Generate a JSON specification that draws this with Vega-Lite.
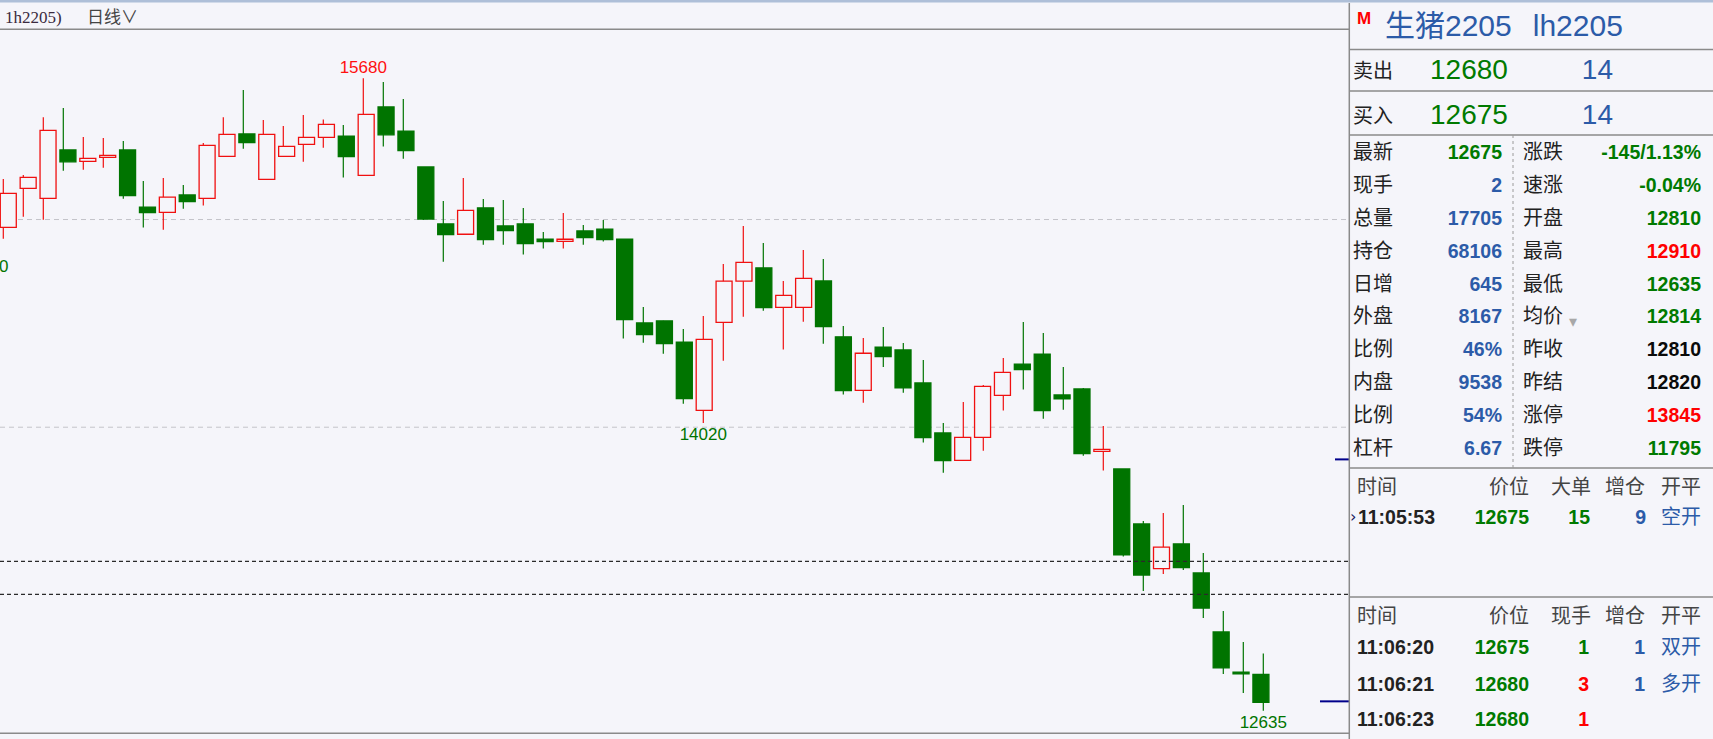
{
  "$schema": "https://vega.github.io/schema/vega-lite/v6.json",
  "background": "#f5f5fa",
  "padding": 0,
  "autosize": {"type": "none"},
  "width": 1713,
  "height": 739,
  "config": {"view": {"stroke": null}},
  "resolve": {"scale": {"x": "independent", "y": "independent"}},
  "datasets": {
    "candles": [
      {"i":0,"open":14962,"high":15195,"low":14908,"close":15126},
      {"i":1,"open":15150,"high":15214,"low":15013,"close":15203},
      {"i":2,"open":15102,"high":15493,"low":14999,"close":15429},
      {"i":3,"open":15335,"high":15537,"low":15235,"close":15278},
      {"i":4,"open":15280,"high":15397,"low":15240,"close":15294},
      {"i":5,"open":15299,"high":15392,"low":15249,"close":15309},
      {"i":6,"open":15335,"high":15378,"low":15100,"close":15115},
      {"i":7,"open":15060,"high":15185,"low":14961,"close":15033},
      {"i":8,"open":15034,"high":15200,"low":14951,"close":15108},
      {"i":9,"open":15118,"high":15166,"low":15052,"close":15086},
      {"i":10,"open":15102,"high":15368,"low":15067,"close":15357},
      {"i":11,"open":15304,"high":15493,"low":15304,"close":15410},
      {"i":12,"open":15412,"high":15624,"low":15341,"close":15370},
      {"i":13,"open":15193,"high":15479,"low":15193,"close":15410},
      {"i":14,"open":15304,"high":15450,"low":15304,"close":15352},
      {"i":15,"open":15362,"high":15503,"low":15278,"close":15396},
      {"i":16,"open":15396,"high":15482,"low":15346,"close":15458},
      {"i":17,"open":15402,"high":15455,"low":15202,"close":15303},
      {"i":18,"open":15213,"high":15680,"low":15213,"close":15506},
      {"i":19,"open":15542,"high":15662,"low":15351,"close":15408},
      {"i":20,"open":15426,"high":15580,"low":15293,"close":15332},
      {"i":21,"open":15253,"high":15253,"low":14998,"close":15002},
      {"i":22,"open":14979,"high":15089,"low":14797,"close":14927},
      {"i":23,"open":14929,"high":15200,"low":14929,"close":15044},
      {"i":24,"open":15056,"high":15099,"low":14879,"close":14903},
      {"i":25,"open":14969,"high":15094,"low":14879,"close":14947},
      {"i":26,"open":14979,"high":15056,"low":14831,"close":14884},
      {"i":27,"open":14906,"high":14940,"low":14860,"close":14894},
      {"i":28,"open":14895,"high":15032,"low":14860,"close":14905},
      {"i":29,"open":14945,"high":14974,"low":14879,"close":14913},
      {"i":30,"open":14954,"high":14998,"low":14894,"close":14903},
      {"i":31,"open":14906,"high":14906,"low":14427,"close":14518},
      {"i":32,"open":14502,"high":14579,"low":14407,"close":14446},
      {"i":33,"open":14512,"high":14512,"low":14354,"close":14402},
      {"i":34,"open":14410,"high":14473,"low":14113,"close":14138},
      {"i":35,"open":14081,"high":14536,"low":14020,"close":14423},
      {"i":36,"open":14505,"high":14786,"low":14320,"close":14703},
      {"i":37,"open":14703,"high":14969,"low":14532,"close":14794},
      {"i":38,"open":14767,"high":14887,"low":14561,"close":14576},
      {"i":39,"open":14577,"high":14704,"low":14374,"close":14635},
      {"i":40,"open":14577,"high":14853,"low":14508,"close":14717},
      {"i":41,"open":14704,"high":14810,"low":14402,"close":14484},
      {"i":42,"open":14435,"high":14487,"low":14157,"close":14176},
      {"i":43,"open":14177,"high":14430,"low":14118,"close":14356},
      {"i":44,"open":14386,"high":14482,"low":14290,"close":14340},
      {"i":45,"open":14372,"high":14405,"low":14166,"close":14189},
      {"i":46,"open":14213,"high":14324,"low":13926,"close":13950},
      {"i":47,"open":13972,"high":14020,"low":13781,"close":13839},
      {"i":48,"open":13840,"high":14121,"low":13840,"close":13951},
      {"i":49,"open":13951,"high":14203,"low":13887,"close":14197},
      {"i":50,"open":14153,"high":14333,"low":14080,"close":14264},
      {"i":51,"open":14304,"high":14507,"low":14181,"close":14277},
      {"i":52,"open":14352,"high":14454,"low":14041,"close":14080},
      {"i":53,"open":14155,"high":14290,"low":14084,"close":14137},
      {"i":54,"open":14184,"high":14189,"low":13863,"close":13873},
      {"i":55,"open":13884,"high":14006,"low":13791,"close":13893},
      {"i":56,"open":13799,"high":13799,"low":13377,"close":13385},
      {"i":57,"open":13534,"high":13548,"low":13211,"close":13288},
      {"i":58,"open":13319,"high":13587,"low":13293,"close":13423},
      {"i":59,"open":13438,"high":13625,"low":13312,"close":13324},
      {"i":60,"open":13298,"high":13394,"low":13081,"close":13129},
      {"i":61,"open":13014,"high":13115,"low":12812,"close":12841},
      {"i":62,"open":12821,"high":12966,"low":12720,"close":12812},
      {"i":63,"open":12810,"high":12910,"low":12635,"close":12675}
    ],
    "levels": [
      {"price":15000,"kind":"grid"},
      {"price":14000,"kind":"grid"},
      {"price":13354,"kind":"line"},
      {"price":13195,"kind":"line"}
    ],
    "tags": [
      {"i":18,"price":15680,"text":"15680","pos":"high"},
      {"i":35,"price":14020,"text":"14020","pos":"low"},
      {"i":63,"price":12635,"text":"12635","pos":"low"},
      {"i":0.02,"price":14831,"text":"0","pos":"low"}
    ],
    "markers": [
      {"price":13845,"from":66.585,"to":67.285},
      {"price":12680,"from":65.835,"to":67.285}
    ],
    "prules": [
      {"x":-1349,"x2":364,"y":1,"y2":1,"kind":"band"},
      {"x":-1349,"x2":0,"y":29.3,"y2":29.3,"kind":"solid"},
      {"x":-1349,"x2":0,"y":733.3,"y2":733.3,"kind":"solid"},
      {"x":0,"x2":364,"y":49.5,"y2":49.5,"kind":"solid"},
      {"x":0,"x2":364,"y":91,"y2":91,"kind":"solid"},
      {"x":0,"x2":364,"y":135,"y2":135,"kind":"solid"},
      {"x":0,"x2":364,"y":468,"y2":468,"kind":"solid"},
      {"x":0,"x2":364,"y":597,"y2":597,"kind":"solid"},
      {"x":0.3,"x2":0.3,"y":3,"y2":739,"kind":"solid"},
      {"x":164,"x2":164,"y":135,"y2":468,"kind":"dash"}
    ],
    "panel": [
      {"x":-1344,"y":22.5,"text":"1h2205)","tone":"hdr","style":"hdr"},
      {"x":-1262,"y":22.5,"text":"日线∨","tone":"head","style":"hdr"},
      {"x":8,"y":19,"text":"M","tone":"red","style":"badge"},
      {"x":36,"y":27,"text":"生猪2205\u2002\u2009lh2205","tone":"blue","style":"name"},
      {"x":4,"y":72,"text":"卖出","tone":"label","style":"label"},
      {"x":81,"y":71,"text":"12680","tone":"green","style":"quoteL"},
      {"x":264,"y":71,"text":"14","tone":"blue","style":"quoteR"},
      {"x":4,"y":117,"text":"买入","tone":"label","style":"label"},
      {"x":81,"y":116,"text":"12675","tone":"green","style":"quoteL"},
      {"x":264,"y":116,"text":"14","tone":"blue","style":"quoteR"},

      {"x":4,"y":153,"text":"最新","tone":"label","style":"label"},
      {"x":4,"y":186,"text":"现手","tone":"label","style":"label"},
      {"x":4,"y":219,"text":"总量","tone":"label","style":"label"},
      {"x":4,"y":252,"text":"持仓","tone":"label","style":"label"},
      {"x":4,"y":285,"text":"日增","tone":"label","style":"label"},
      {"x":4,"y":317,"text":"外盘","tone":"label","style":"label"},
      {"x":4,"y":350,"text":"比例","tone":"label","style":"label"},
      {"x":4,"y":383,"text":"内盘","tone":"label","style":"label"},
      {"x":4,"y":416,"text":"比例","tone":"label","style":"label"},
      {"x":4,"y":449,"text":"杠杆","tone":"label","style":"label"},

      {"x":153,"y":153,"text":"12675","tone":"green","style":"num"},
      {"x":153,"y":186,"text":"2","tone":"blue","style":"num"},
      {"x":153,"y":219,"text":"17705","tone":"blue","style":"num"},
      {"x":153,"y":252,"text":"68106","tone":"blue","style":"num"},
      {"x":153,"y":285,"text":"645","tone":"blue","style":"num"},
      {"x":153,"y":317,"text":"8167","tone":"blue","style":"num"},
      {"x":153,"y":350,"text":"46%","tone":"blue","style":"num"},
      {"x":153,"y":383,"text":"9538","tone":"blue","style":"num"},
      {"x":153,"y":416,"text":"54%","tone":"blue","style":"num"},
      {"x":153,"y":449,"text":"6.67","tone":"blue","style":"num"},

      {"x":174,"y":153,"text":"涨跌","tone":"label","style":"label"},
      {"x":174,"y":186,"text":"速涨","tone":"label","style":"label"},
      {"x":174,"y":219,"text":"开盘","tone":"label","style":"label"},
      {"x":174,"y":252,"text":"最高","tone":"label","style":"label"},
      {"x":174,"y":285,"text":"最低","tone":"label","style":"label"},
      {"x":174,"y":317,"text":"均价","tone":"label","style":"label"},
      {"x":174,"y":350,"text":"昨收","tone":"label","style":"label"},
      {"x":174,"y":383,"text":"昨结","tone":"label","style":"label"},
      {"x":174,"y":416,"text":"涨停","tone":"label","style":"label"},
      {"x":174,"y":449,"text":"跌停","tone":"label","style":"label"},
      {"x":220,"y":322,"text":"▾","tone":"gray","style":"small"},

      {"x":352,"y":153,"text":"-145/1.13%","tone":"green","style":"num"},
      {"x":352,"y":186,"text":"-0.04%","tone":"green","style":"num"},
      {"x":352,"y":219,"text":"12810","tone":"green","style":"num"},
      {"x":352,"y":252,"text":"12910","tone":"red","style":"num"},
      {"x":352,"y":285,"text":"12635","tone":"green","style":"num"},
      {"x":352,"y":317,"text":"12814","tone":"green","style":"num"},
      {"x":352,"y":350,"text":"12810","tone":"black","style":"num"},
      {"x":352,"y":383,"text":"12820","tone":"black","style":"num"},
      {"x":352,"y":416,"text":"13845","tone":"red","style":"num"},
      {"x":352,"y":449,"text":"11795","tone":"green","style":"num"},

      {"x":8,"y":488,"text":"时间","tone":"head","style":"label"},
      {"x":180,"y":488,"text":"价位","tone":"head","style":"head"},
      {"x":242,"y":488,"text":"大单","tone":"head","style":"head"},
      {"x":296,"y":488,"text":"增仓","tone":"head","style":"head"},
      {"x":352,"y":488,"text":"开平","tone":"head","style":"head"},
      {"x":1,"y":517,"text":"›","tone":"navy","style":"small"},
      {"x":9,"y":518,"text":"11:05:53","tone":"label","style":"time"},
      {"x":180,"y":518,"text":"12675","tone":"green","style":"num"},
      {"x":241,"y":518,"text":"15","tone":"green","style":"num"},
      {"x":297,"y":518,"text":"9","tone":"blue","style":"num"},
      {"x":352,"y":518,"text":"空开","tone":"blue","style":"head"},

      {"x":8,"y":617,"text":"时间","tone":"head","style":"label"},
      {"x":180,"y":617,"text":"价位","tone":"head","style":"head"},
      {"x":242,"y":617,"text":"现手","tone":"head","style":"head"},
      {"x":296,"y":617,"text":"增仓","tone":"head","style":"head"},
      {"x":352,"y":617,"text":"开平","tone":"head","style":"head"},
      {"x":8,"y":648,"text":"11:06:20","tone":"label","style":"time"},
      {"x":180,"y":648,"text":"12675","tone":"green","style":"num"},
      {"x":240,"y":648,"text":"1","tone":"green","style":"num"},
      {"x":296,"y":648,"text":"1","tone":"blue","style":"num"},
      {"x":352,"y":648,"text":"双开","tone":"blue","style":"head"},
      {"x":8,"y":685,"text":"11:06:21","tone":"label","style":"time"},
      {"x":180,"y":685,"text":"12680","tone":"green","style":"num"},
      {"x":240,"y":685,"text":"3","tone":"red","style":"num"},
      {"x":296,"y":685,"text":"1","tone":"blue","style":"num"},
      {"x":352,"y":685,"text":"多开","tone":"blue","style":"head"},
      {"x":8,"y":720,"text":"11:06:23","tone":"label","style":"time"},
      {"x":180,"y":720,"text":"12680","tone":"green","style":"num"},
      {"x":240,"y":720,"text":"1","tone":"red","style":"num"}
    ]
  },
  "layer": [
    {
      "data": {"name": "levels"},
      "transform": [{"filter": "datum.kind == 'grid'"}],
      "mark": {"type": "rule", "color": "#c4c4ca", "strokeDash": [5, 4], "strokeWidth": 1},
      "encoding": {
        "x": {"datum": -0.165, "type": "quantitative", "scale": {"domain": [-0.165, 85.485], "nice": false, "zero": false}, "axis": null},
        "x2": {"datum": 67.285},
        "y": {"field": "price", "type": "quantitative", "scale": {"domain": [12498.7, 16057.0], "nice": false, "zero": false}, "axis": null}
      }
    },
    {
      "data": {"name": "candles"},
      "mark": {"type": "rule", "strokeWidth": 1.2},
      "encoding": {
        "x": {"field": "i", "type": "quantitative", "scale": {"domain": [-0.165, 85.485], "nice": false, "zero": false}, "axis": null},
        "y": {"field": "low", "type": "quantitative", "scale": {"domain": [12498.7, 16057.0], "nice": false, "zero": false}, "axis": null},
        "y2": {"field": "high"},
        "color": {"condition": {"test": "datum.close >= datum.open", "value": "#f01010"}, "value": "#007400"}
      }
    },
    {
      "data": {"name": "candles"},
      "mark": {"type": "bar", "width": 16, "strokeWidth": 1.3},
      "encoding": {
        "x": {"field": "i", "type": "quantitative", "scale": {"domain": [-0.165, 85.485], "nice": false, "zero": false}, "axis": null},
        "y": {"field": "open", "type": "quantitative", "scale": {"domain": [12498.7, 16057.0], "nice": false, "zero": false}, "axis": null},
        "y2": {"field": "close"},
        "fill": {"condition": {"test": "datum.close >= datum.open", "value": "#f5f5fa"}, "value": "#007400"},
        "stroke": {"condition": {"test": "datum.close >= datum.open", "value": "#f01010"}, "value": "#007400"}
      }
    },
    {
      "data": {"name": "levels"},
      "transform": [{"filter": "datum.kind == 'line'"}],
      "mark": {"type": "rule", "color": "#2a2a2a", "strokeDash": [4, 3], "strokeWidth": 1.2},
      "encoding": {
        "x": {"datum": -0.165, "type": "quantitative", "scale": {"domain": [-0.165, 85.485], "nice": false, "zero": false}, "axis": null},
        "x2": {"datum": 67.285},
        "y": {"field": "price", "type": "quantitative", "scale": {"domain": [12498.7, 16057.0], "nice": false, "zero": false}, "axis": null}
      }
    },
    {
      "data": {"name": "markers"},
      "mark": {"type": "rule", "color": "#00008b", "strokeWidth": 2},
      "encoding": {
        "x": {"field": "from", "type": "quantitative", "scale": {"domain": [-0.165, 85.485], "nice": false, "zero": false}, "axis": null},
        "x2": {"field": "to"},
        "y": {"field": "price", "type": "quantitative", "scale": {"domain": [12498.7, 16057.0], "nice": false, "zero": false}, "axis": null}
      }
    },
    {
      "data": {"name": "tags"},
      "transform": [{"filter": "datum.pos == 'high'"}],
      "mark": {"type": "text", "baseline": "alphabetic", "dy": -5, "fontSize": 17, "font": "Liberation Sans", "color": "#ff1010"},
      "encoding": {
        "x": {"field": "i", "type": "quantitative", "scale": {"domain": [-0.165, 85.485], "nice": false, "zero": false}, "axis": null},
        "y": {"field": "price", "type": "quantitative", "scale": {"domain": [12498.7, 16057.0], "nice": false, "zero": false}, "axis": null},
        "text": {"field": "text"}
      }
    },
    {
      "data": {"name": "tags"},
      "transform": [{"filter": "datum.pos == 'low'"}],
      "mark": {"type": "text", "baseline": "top", "dy": 4, "fontSize": 17, "font": "Liberation Sans", "color": "#007400"},
      "encoding": {
        "x": {"field": "i", "type": "quantitative", "scale": {"domain": [-0.165, 85.485], "nice": false, "zero": false}, "axis": null},
        "y": {"field": "price", "type": "quantitative", "scale": {"domain": [12498.7, 16057.0], "nice": false, "zero": false}, "axis": null},
        "text": {"field": "text"}
      }
    },
    {
      "data": {"name": "prules"},
      "transform": [{"filter": "datum.kind == 'band'"}],
      "mark": {"type": "rule", "color": "#aebfd8", "strokeWidth": 3},
      "encoding": {
        "x": {"field": "x", "type": "quantitative", "scale": {"domain": [-1349, 364], "nice": false, "zero": false}, "axis": null},
        "x2": {"field": "x2"},
        "y": {"field": "y", "type": "quantitative", "scale": {"domain": [0, 739], "reverse": true, "nice": false, "zero": false}, "axis": null},
        "y2": {"field": "y2"}
      }
    },
    {
      "data": {"name": "prules"},
      "transform": [{"filter": "datum.kind == 'solid'"}],
      "mark": {"type": "rule", "color": "#8a8a8a", "strokeWidth": 1.5},
      "encoding": {
        "x": {"field": "x", "type": "quantitative", "scale": {"domain": [-1349, 364], "nice": false, "zero": false}, "axis": null},
        "x2": {"field": "x2"},
        "y": {"field": "y", "type": "quantitative", "scale": {"domain": [0, 739], "reverse": true, "nice": false, "zero": false}, "axis": null},
        "y2": {"field": "y2"}
      }
    },
    {
      "data": {"name": "prules"},
      "transform": [{"filter": "datum.kind == 'dash'"}],
      "mark": {"type": "rule", "color": "#9a9a9a", "strokeWidth": 1, "strokeDash": [3, 3]},
      "encoding": {
        "x": {"field": "x", "type": "quantitative", "scale": {"domain": [-1349, 364], "nice": false, "zero": false}, "axis": null},
        "x2": {"field": "x2"},
        "y": {"field": "y", "type": "quantitative", "scale": {"domain": [0, 739], "reverse": true, "nice": false, "zero": false}, "axis": null},
        "y2": {"field": "y2"}
      }
    },
    {
      "data": {"name": "panel"},
      "transform": [{"filter": "datum.style == 'hdr'"}],
      "mark": {"type": "text", "align": "left", "baseline": "alphabetic", "fontSize": 17, "font": "Liberation Serif, Noto Sans CJK SC"},
      "encoding": {
        "x": {"field": "x", "type": "quantitative", "scale": {"domain": [-1349, 364], "nice": false, "zero": false}, "axis": null},
        "y": {"field": "y", "type": "quantitative", "scale": {"domain": [0, 739], "reverse": true, "nice": false, "zero": false}, "axis": null},
        "text": {"field": "text"},
        "color": {"field": "tone", "type": "nominal", "legend": null, "scale": {"domain": ["green", "red", "blue", "black", "label", "head", "gray", "navy", "hdr"], "range": ["#007a00", "#ff0000", "#2c5ba8", "#0a0a0a", "#222222", "#444444", "#a8a8a8", "#1a1a60", "#3a2a40"]}}
      }
    },
    {
      "data": {"name": "panel"},
      "transform": [{"filter": "datum.style == 'badge'"}],
      "mark": {"type": "text", "align": "left", "baseline": "middle", "fontSize": 17, "fontWeight": "bold", "font": "Liberation Sans"},
      "encoding": {
        "x": {"field": "x", "type": "quantitative", "scale": {"domain": [-1349, 364], "nice": false, "zero": false}, "axis": null},
        "y": {"field": "y", "type": "quantitative", "scale": {"domain": [0, 739], "reverse": true, "nice": false, "zero": false}, "axis": null},
        "text": {"field": "text"},
        "color": {"field": "tone", "type": "nominal", "legend": null, "scale": {"domain": ["green", "red", "blue", "black", "label", "head", "gray", "navy", "hdr"], "range": ["#007a00", "#ff0000", "#2c5ba8", "#0a0a0a", "#222222", "#444444", "#a8a8a8", "#1a1a60", "#3a2a40"]}}
      }
    },
    {
      "data": {"name": "panel"},
      "transform": [{"filter": "datum.style == 'name'"}],
      "mark": {"type": "text", "align": "left", "baseline": "middle", "fontSize": 30, "font": "Liberation Sans, Noto Sans CJK SC"},
      "encoding": {
        "x": {"field": "x", "type": "quantitative", "scale": {"domain": [-1349, 364], "nice": false, "zero": false}, "axis": null},
        "y": {"field": "y", "type": "quantitative", "scale": {"domain": [0, 739], "reverse": true, "nice": false, "zero": false}, "axis": null},
        "text": {"field": "text"},
        "color": {"field": "tone", "type": "nominal", "legend": null, "scale": {"domain": ["green", "red", "blue", "black", "label", "head", "gray", "navy", "hdr"], "range": ["#007a00", "#ff0000", "#2c5ba8", "#0a0a0a", "#222222", "#444444", "#a8a8a8", "#1a1a60", "#3a2a40"]}}
      }
    },
    {
      "data": {"name": "panel"},
      "transform": [{"filter": "datum.style == 'quoteL'"}],
      "mark": {"type": "text", "align": "left", "baseline": "middle", "fontSize": 28, "font": "Liberation Sans"},
      "encoding": {
        "x": {"field": "x", "type": "quantitative", "scale": {"domain": [-1349, 364], "nice": false, "zero": false}, "axis": null},
        "y": {"field": "y", "type": "quantitative", "scale": {"domain": [0, 739], "reverse": true, "nice": false, "zero": false}, "axis": null},
        "text": {"field": "text"},
        "color": {"field": "tone", "type": "nominal", "legend": null, "scale": {"domain": ["green", "red", "blue", "black", "label", "head", "gray", "navy", "hdr"], "range": ["#007a00", "#ff0000", "#2c5ba8", "#0a0a0a", "#222222", "#444444", "#a8a8a8", "#1a1a60", "#3a2a40"]}}
      }
    },
    {
      "data": {"name": "panel"},
      "transform": [{"filter": "datum.style == 'quoteR'"}],
      "mark": {"type": "text", "align": "right", "baseline": "middle", "fontSize": 28, "font": "Liberation Sans"},
      "encoding": {
        "x": {"field": "x", "type": "quantitative", "scale": {"domain": [-1349, 364], "nice": false, "zero": false}, "axis": null},
        "y": {"field": "y", "type": "quantitative", "scale": {"domain": [0, 739], "reverse": true, "nice": false, "zero": false}, "axis": null},
        "text": {"field": "text"},
        "color": {"field": "tone", "type": "nominal", "legend": null, "scale": {"domain": ["green", "red", "blue", "black", "label", "head", "gray", "navy", "hdr"], "range": ["#007a00", "#ff0000", "#2c5ba8", "#0a0a0a", "#222222", "#444444", "#a8a8a8", "#1a1a60", "#3a2a40"]}}
      }
    },
    {
      "data": {"name": "panel"},
      "transform": [{"filter": "datum.style == 'label'"}],
      "mark": {"type": "text", "align": "left", "baseline": "middle", "fontSize": 20, "font": "Noto Sans CJK SC"},
      "encoding": {
        "x": {"field": "x", "type": "quantitative", "scale": {"domain": [-1349, 364], "nice": false, "zero": false}, "axis": null},
        "y": {"field": "y", "type": "quantitative", "scale": {"domain": [0, 739], "reverse": true, "nice": false, "zero": false}, "axis": null},
        "text": {"field": "text"},
        "color": {"field": "tone", "type": "nominal", "legend": null, "scale": {"domain": ["green", "red", "blue", "black", "label", "head", "gray", "navy", "hdr"], "range": ["#007a00", "#ff0000", "#2c5ba8", "#0a0a0a", "#222222", "#444444", "#a8a8a8", "#1a1a60", "#3a2a40"]}}
      }
    },
    {
      "data": {"name": "panel"},
      "transform": [{"filter": "datum.style == 'head'"}],
      "mark": {"type": "text", "align": "right", "baseline": "middle", "fontSize": 20, "font": "Noto Sans CJK SC"},
      "encoding": {
        "x": {"field": "x", "type": "quantitative", "scale": {"domain": [-1349, 364], "nice": false, "zero": false}, "axis": null},
        "y": {"field": "y", "type": "quantitative", "scale": {"domain": [0, 739], "reverse": true, "nice": false, "zero": false}, "axis": null},
        "text": {"field": "text"},
        "color": {"field": "tone", "type": "nominal", "legend": null, "scale": {"domain": ["green", "red", "blue", "black", "label", "head", "gray", "navy", "hdr"], "range": ["#007a00", "#ff0000", "#2c5ba8", "#0a0a0a", "#222222", "#444444", "#a8a8a8", "#1a1a60", "#3a2a40"]}}
      }
    },
    {
      "data": {"name": "panel"},
      "transform": [{"filter": "datum.style == 'num'"}],
      "mark": {"type": "text", "align": "right", "baseline": "middle", "fontSize": 19.5, "fontWeight": "bold", "font": "Liberation Sans"},
      "encoding": {
        "x": {"field": "x", "type": "quantitative", "scale": {"domain": [-1349, 364], "nice": false, "zero": false}, "axis": null},
        "y": {"field": "y", "type": "quantitative", "scale": {"domain": [0, 739], "reverse": true, "nice": false, "zero": false}, "axis": null},
        "text": {"field": "text"},
        "color": {"field": "tone", "type": "nominal", "legend": null, "scale": {"domain": ["green", "red", "blue", "black", "label", "head", "gray", "navy", "hdr"], "range": ["#007a00", "#ff0000", "#2c5ba8", "#0a0a0a", "#222222", "#444444", "#a8a8a8", "#1a1a60", "#3a2a40"]}}
      }
    },
    {
      "data": {"name": "panel"},
      "transform": [{"filter": "datum.style == 'time'"}],
      "mark": {"type": "text", "align": "left", "baseline": "middle", "fontSize": 19.5, "fontWeight": "bold", "font": "Liberation Sans"},
      "encoding": {
        "x": {"field": "x", "type": "quantitative", "scale": {"domain": [-1349, 364], "nice": false, "zero": false}, "axis": null},
        "y": {"field": "y", "type": "quantitative", "scale": {"domain": [0, 739], "reverse": true, "nice": false, "zero": false}, "axis": null},
        "text": {"field": "text"},
        "color": {"field": "tone", "type": "nominal", "legend": null, "scale": {"domain": ["green", "red", "blue", "black", "label", "head", "gray", "navy", "hdr"], "range": ["#007a00", "#ff0000", "#2c5ba8", "#0a0a0a", "#222222", "#444444", "#a8a8a8", "#1a1a60", "#3a2a40"]}}
      }
    },
    {
      "data": {"name": "panel"},
      "transform": [{"filter": "datum.style == 'small'"}],
      "mark": {"type": "text", "align": "left", "baseline": "middle", "fontSize": 16, "font": "DejaVu Sans"},
      "encoding": {
        "x": {"field": "x", "type": "quantitative", "scale": {"domain": [-1349, 364], "nice": false, "zero": false}, "axis": null},
        "y": {"field": "y", "type": "quantitative", "scale": {"domain": [0, 739], "reverse": true, "nice": false, "zero": false}, "axis": null},
        "text": {"field": "text"},
        "color": {"field": "tone", "type": "nominal", "legend": null, "scale": {"domain": ["green", "red", "blue", "black", "label", "head", "gray", "navy", "hdr"], "range": ["#007a00", "#ff0000", "#2c5ba8", "#0a0a0a", "#222222", "#444444", "#a8a8a8", "#1a1a60", "#3a2a40"]}}
      }
    }
  ]
}
